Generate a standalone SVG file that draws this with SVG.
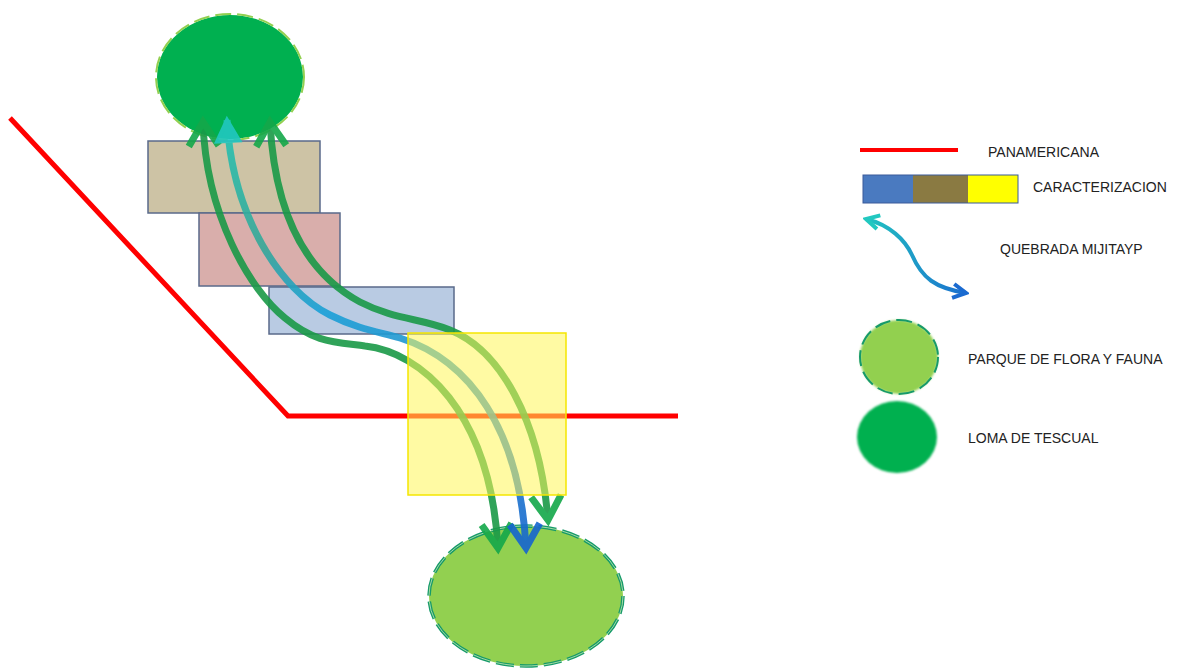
<svg xmlns="http://www.w3.org/2000/svg" width="1182" height="671" viewBox="0 0 1182 671">
  <style>
    .lbl { font-family: "Liberation Sans", Arial, sans-serif; font-size: 14px; fill: #222; }
    .band { stroke: #5a6a8a; stroke-width: 1.5; }
    .road { fill: none; stroke: #ff0000; stroke-width: 5; }
    .flow { fill: none; stroke-width: 7; opacity: 0.9; }
  </style>
  <defs>
    <linearGradient id="qGrad" gradientUnits="userSpaceOnUse" x1="0" y1="118" x2="0" y2="550">
      <stop offset="0" stop-color="#22c4b4"/>
      <stop offset="0.3" stop-color="#35a898"/>
      <stop offset="0.45" stop-color="#1aa0d8"/>
      <stop offset="0.6" stop-color="#2a90c8"/>
      <stop offset="1" stop-color="#1565d0"/>
    </linearGradient>
    <linearGradient id="legGrad" gradientUnits="userSpaceOnUse" x1="862" y1="0" x2="970" y2="0">
      <stop offset="0" stop-color="#22c8c0"/>
      <stop offset="1" stop-color="#1a6ad0"/>
    </linearGradient>
    <marker id="mGreen" viewBox="0 0 40 40" refX="33" refY="20" markerWidth="40" markerHeight="40" markerUnits="userSpaceOnUse" orient="auto-start-reverse">
      <path d="M9,5 L33,20 L9,35" fill="none" stroke="#14a84a" stroke-width="7"/>
    </marker>
    <marker id="mCyan" viewBox="0 0 40 40" refX="33" refY="20" markerWidth="40" markerHeight="40" markerUnits="userSpaceOnUse" orient="auto-start-reverse">
      <path d="M12,9 L33,20 L12,31 Z" fill="#22c8c0" stroke="#22c8c0" stroke-width="4"/>
    </marker>
    <marker id="mBlue" viewBox="0 0 40 40" refX="33" refY="20" markerWidth="40" markerHeight="40" markerUnits="userSpaceOnUse" orient="auto">
      <path d="M9,5 L33,20 L9,35" fill="none" stroke="#1565d0" stroke-width="7"/>
    </marker>
    <marker id="mLegCyan" viewBox="0 0 20 20" refX="17" refY="10" markerWidth="20" markerHeight="20" markerUnits="userSpaceOnUse" orient="auto-start-reverse">
      <path d="M4,3 L17,10 L4,17" fill="none" stroke="#22c8c0" stroke-width="4"/>
    </marker>
    <marker id="mLegBlue" viewBox="0 0 20 20" refX="17" refY="10" markerWidth="20" markerHeight="20" markerUnits="userSpaceOnUse" orient="auto">
      <path d="M4,3 L17,10 L4,17" fill="none" stroke="#1a6ad0" stroke-width="4"/>
    </marker>
    <filter id="soft" x="-20%" y="-20%" width="140%" height="140%">
      <feGaussianBlur stdDeviation="1.2"/>
    </filter>
  </defs>

  <rect width="1182" height="671" fill="#ffffff"/>

  <g id="panamericana">
    <polyline class="road" points="10,118 288,416 678,416"/>
  </g>

  <g id="loma-de-tescual">
    <ellipse cx="230" cy="77" rx="73" ry="62" fill="#00b050"/>
    <ellipse cx="230" cy="77" rx="74" ry="63" fill="none" stroke="#92d050" stroke-width="2" stroke-dasharray="16 6"/>
  </g>

  <g id="parque-flora-fauna">
    <ellipse cx="526" cy="596" rx="97" ry="70" fill="#92d050"/>
    <ellipse cx="526" cy="596" rx="97" ry="70" fill="none" stroke="#169a6a" stroke-width="3.5" stroke-dasharray="18 6"/>
    <ellipse cx="526" cy="596" rx="97" ry="70" fill="none" stroke="#c8eab0" stroke-width="0.8" stroke-dasharray="18 6"/>
  </g>

  <g id="caracterizacion-1">
    <rect class="band" x="148" y="141" width="172" height="72" fill="#cdc3a5"/>
  </g>
  <g id="caracterizacion-2">
    <rect class="band" x="199" y="213" width="141" height="73" fill="#d9aeab"/>
  </g>
  <g id="caracterizacion-3">
    <rect class="band" x="269" y="287" width="185" height="47" fill="#b9cbe3"/>
  </g>

  <g id="connectors">
    <path class="flow" stroke="#1a9a48" marker-start="url(#mGreen)" marker-end="url(#mGreen)" d="M203,122 C206,215 250,290 285,318 C315,343 335,342 365,346 C420,352 490,410 498,548"/>
    <path class="flow" stroke="url(#qGrad)" marker-start="url(#mCyan)" marker-end="url(#mBlue)" d="M227,120 C232,215 280,290 330,315 C360,330 380,332 400,338 C470,360 520,430 526,548"/>
    <path class="flow" stroke="#1a9a48" marker-start="url(#mGreen)" marker-end="url(#mGreen)" d="M270,122 C275,220 310,275 360,302 C395,320 420,318 450,330 C500,350 540,420 548,520"/>
  </g>

  <g id="caracterizacion-4">
    <rect x="408" y="333" width="158" height="162" fill="#fff658" fill-opacity="0.55" stroke="#f5e600" stroke-width="1.5"/>
  </g>

  <g id="legend">
    <g id="legend-panamericana">
      <line x1="860" y1="150" x2="958" y2="150" stroke="#ff0000" stroke-width="4"/>
      <text class="lbl" x="988" y="157">PANAMERICANA</text>
    </g>
    <g id="legend-caracterizacion">
      <rect x="863" y="175" width="50" height="28" fill="#4a7ac0"/>
      <rect x="913" y="175" width="55" height="28" fill="#8a7a42"/>
      <rect x="968" y="175" width="50" height="28" fill="#ffff00"/>
      <rect x="863" y="175" width="155" height="28" fill="none" stroke="#3a5a9a" stroke-width="1"/>
      <text class="lbl" x="1033" y="192">CARACTERIZACION</text>
    </g>
    <g id="legend-quebrada">
      <path d="M866,219 C890,225 905,240 912,255 C922,278 935,288 966,293" fill="none" stroke="url(#legGrad)" stroke-width="4" marker-start="url(#mLegCyan)" marker-end="url(#mLegBlue)"/>
      <text class="lbl" x="1000" y="254">QUEBRADA MIJITAYP</text>
    </g>
    <g id="legend-parque">
      <ellipse cx="899" cy="357" rx="39" ry="37" fill="#92d050" filter="url(#soft)"/>
      <ellipse cx="899" cy="357" rx="39" ry="37" fill="none" stroke="#169a6a" stroke-width="2" stroke-dasharray="16 6"/>
      <text class="lbl" x="968" y="364">PARQUE DE FLORA Y FAUNA</text>
    </g>
    <g id="legend-loma">
      <ellipse cx="897" cy="437" rx="40" ry="36" fill="#00b050" filter="url(#soft)"/>
      <text class="lbl" x="968" y="443">LOMA DE TESCUAL</text>
    </g>
  </g>
</svg>
